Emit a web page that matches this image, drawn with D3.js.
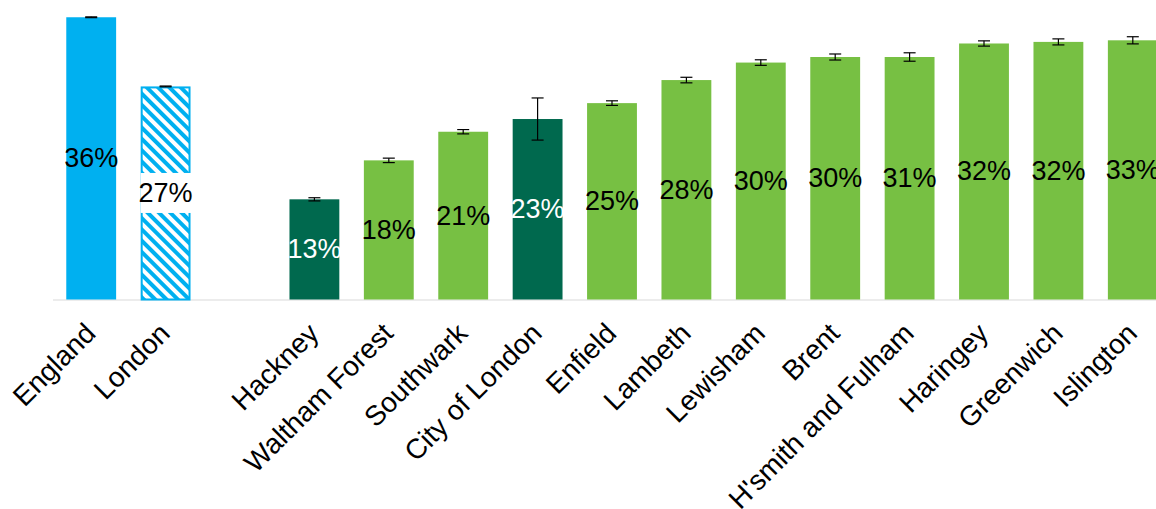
<!DOCTYPE html>
<html>
<head>
<meta charset="utf-8">
<script src="https://cdn.jsdelivr.net/npm/d3@7"></script>
<style>
  html, body { margin: 0; padding: 0; background: #fff; overflow: hidden; }
  svg { display: block; }
</style>
</head>
<body>
<svg id="chart" width="1156" height="509"></svg>
<script>
const categories = ["England", "London", "", "Hackney", "Waltham Forest", "Southwark", "City of London",
  "Enfield", "Lambeth", "Lewisham", "Brent", "H'smith and Fulham", "Haringey", "Greenwich", "Islington"];
const values = [35.5, 26.8, null, 12.6, 17.5, 21.1, 22.7, 24.7, 27.6, 29.8, 30.5, 30.5, 32.2, 32.4, 32.6];
const errors = [0.05, 0.05, null, 0.2, 0.28, 0.27, 2.65, 0.29, 0.35, 0.35, 0.38, 0.53, 0.33, 0.38, 0.45];
const labels = ["36%", "27%", "", "13%", "18%", "21%", "23%", "25%", "28%", "30%", "30%", "31%", "32%", "32%", "33%"];
const kinds = ["england", "london", "", "dark", "light", "light", "dark", "light", "light", "light", "light", "light", "light", "light", "light"];
const yMax = 37.67;

const colors = { england: "#00B0F0", london: "url(#stripes)", dark: "#00694E", light: "#77C043" };
const labelColors = { england: "#000", london: "#000", dark: "#fff", light: "#000" };

const svg = d3.select("#chart");
const defs = svg.append("defs");
const pat = defs.append("pattern").attr("id", "stripes")
  .attr("patternUnits", "userSpaceOnUse").attr("width", 8).attr("height", 8)
  .attr("patternTransform", "rotate(-45)");
pat.append("rect").attr("width", 8).attr("height", 8).attr("fill", "#fff");
pat.append("rect").attr("width", 4).attr("height", 8).attr("fill", "#00B0F0");

const x = d3.scaleBand().domain(d3.range(categories.length)).range([54, 1170]).paddingInner(0.33).paddingOuter(0.165);
const y = d3.scaleLinear().domain([0, yMax]).range([299.5, 0]);

const data = categories.map((c, i) => ({ i, c, v: values[i], e: errors[i], l: labels[i], k: kinds[i] }))
  .filter(d => d.v !== null);

// axis line
svg.append("line").attr("x1", 53).attr("x2", 1156).attr("y1", 300).attr("y2", 300)
  .attr("stroke", "#D9D9D9").attr("stroke-width", 1.2);

// bars
svg.selectAll("rect.bar").data(data).enter().append("rect")
  .attr("class", "bar")
  .attr("x", d => x(d.i) + (d.k === "london" ? 1 : 0))
  .attr("y", d => y(d.v) + (d.k === "london" ? 1 : 0))
  .attr("width", d => x.bandwidth() - (d.k === "london" ? 2 : 0))
  .attr("height", d => y(0) - y(d.v) - (d.k === "london" ? 1 : 0))
  .attr("fill", d => colors[d.k])
  .attr("stroke", d => d.k === "london" ? "#00B0F0" : "none")
  .attr("stroke-width", 2);

// London label background
data.filter(d => d.k === "london").forEach(d => {
  const cy = (y(d.v) + y(0)) / 2;
  svg.append("rect").attr("x", x(d.i)).attr("y", cy - 20).attr("width", x.bandwidth() + 1).attr("height", 40)
    .attr("fill", "#fff");
});

// error bars
const eb = svg.selectAll("g.err").data(data).enter().append("g").attr("class", "err")
  .attr("stroke", "#000").attr("stroke-width", 1.2);
eb.append("line").attr("x1", d => x(d.i) + x.bandwidth() / 2).attr("x2", d => x(d.i) + x.bandwidth() / 2)
  .attr("y1", d => y(d.v + d.e)).attr("y2", d => y(d.v - d.e));
eb.append("line").attr("x1", d => x(d.i) + x.bandwidth() / 2 - 6).attr("x2", d => x(d.i) + x.bandwidth() / 2 + 6)
  .attr("y1", d => y(d.v + d.e)).attr("y2", d => y(d.v + d.e));
eb.append("line").attr("x1", d => x(d.i) + x.bandwidth() / 2 - 6).attr("x2", d => x(d.i) + x.bandwidth() / 2 + 6)
  .attr("y1", d => y(d.v - d.e)).attr("y2", d => y(d.v - d.e));

// value labels
svg.selectAll("text.val").data(data).enter().append("text")
  .attr("class", "val")
  .attr("x", d => x(d.i) + x.bandwidth() / 2)
  .attr("y", d => (y(d.v) + y(0)) / 2)
  .attr("text-anchor", "middle")
  .attr("dominant-baseline", "central")
  .attr("font-family", "Liberation Sans, Arial, sans-serif")
  .attr("font-size", 27)
  .attr("fill", d => labelColors[d.k])
  .text(d => d.l);

// category labels
svg.selectAll("text.cat").data(data).enter().append("text")
  .attr("class", "cat")
  .attr("transform", d => `translate(${x(d.i) + x.bandwidth() / 2 + 6},335) rotate(-45)`)
  .attr("text-anchor", "end")
  .attr("font-family", "Liberation Sans, Arial, sans-serif")
  .attr("font-size", 28)
  .attr("fill", "#000")
  .text(d => d.c);
</script>
</body>
</html>
